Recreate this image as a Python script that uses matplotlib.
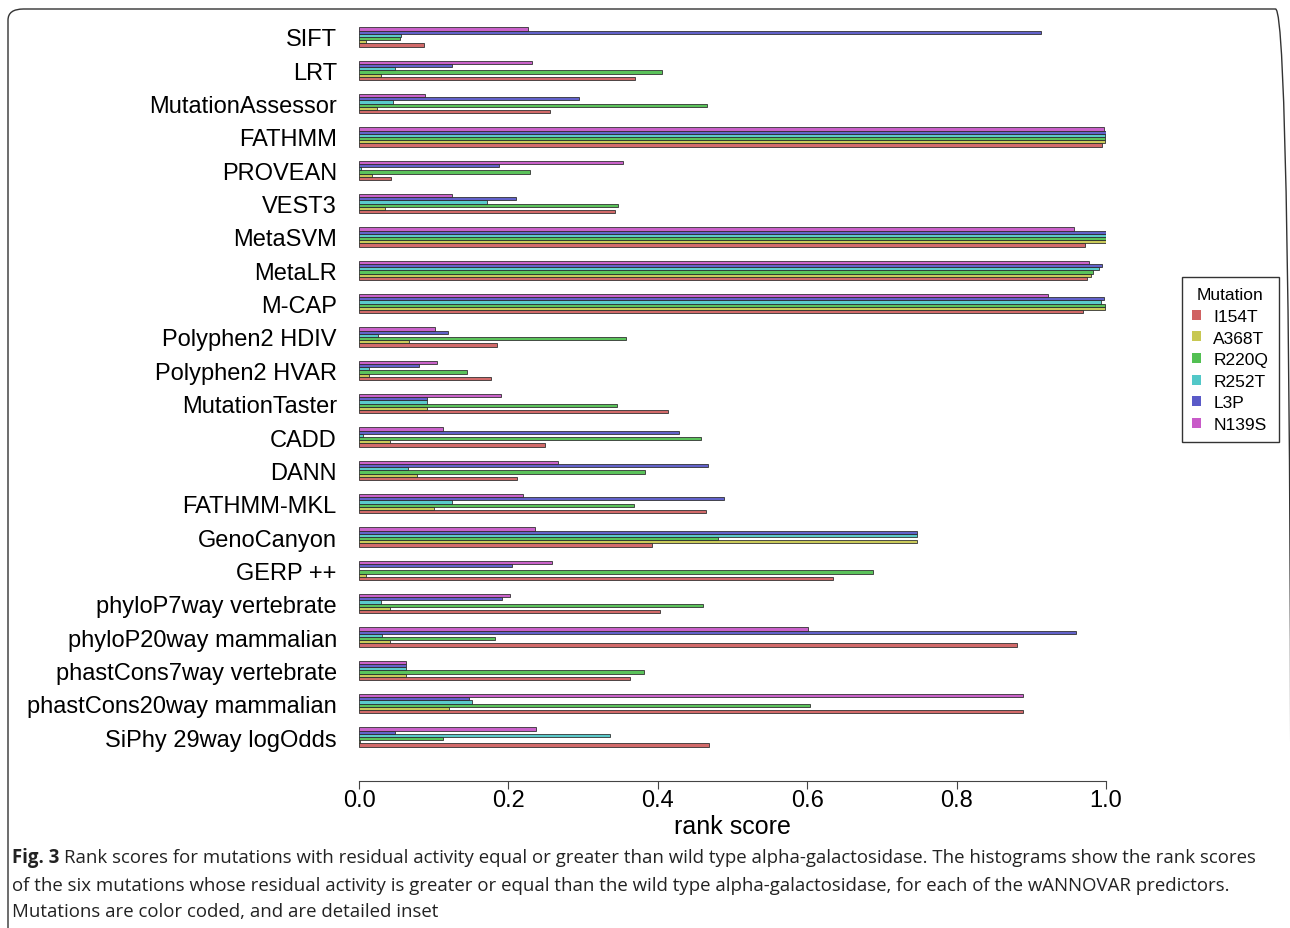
import matplotlib
matplotlib.use("Agg")
import matplotlib.pyplot as plt
import numpy as np
from matplotlib.patches import Patch, FancyBboxPatch

predictors = ["SIFT", "LRT", "MutationAssessor", "FATHMM", "PROVEAN", "VEST3",
              "MetaSVM", "MetaLR", "M-CAP", "Polyphen2 HDIV", "Polyphen2 HVAR",
              "MutationTaster", "CADD", "DANN", "FATHMM-MKL", "GenoCanyon",
              "GERP ++", "phyloP7way vertebrate", "phyloP20way mammalian",
              "phastCons7way vertebrate", "phastCons20way mammalian",
              "SiPhy 29way logOdds"]

mutations = ["I154T", "A368T", "R220Q", "R252T", "L3P", "N139S"]
colors = ["#D06262", "#C8C852", "#52C052", "#52C8C8", "#5A5AC8", "#C85AC8"]

# rank scores per mutation, in predictor order
I154T = [0.087, 0.370, 0.256, 0.995, 0.043, 0.343, 0.972, 0.975, 0.969, 0.185, 0.177,
         0.414, 0.249, 0.211, 0.464, 0.392, 0.635, 0.403, 0.881, 0.363, 0.889, 0.469]
A368T = [0.010, 0.029, 0.024, 0.998, 0.018, 0.035, 1.000, 0.980, 0.999, 0.067, 0.014,
         0.091, 0.042, 0.078, 0.101, 0.747, 0.009, 0.041, 0.042, 0.063, 0.121, 0.002]
R220Q = [0.055, 0.406, 0.466, 0.998, 0.229, 0.347, 1.000, 0.982, 0.999, 0.357, 0.145,
         0.346, 0.458, 0.383, 0.368, 0.480, 0.688, 0.461, 0.182, 0.381, 0.604, 0.113]
R252T = [0.056, 0.048, 0.046, 0.998, 0.003, 0.172, 1.000, 0.990, 0.993, 0.026, 0.014,
         0.091, 0.005, 0.065, 0.125, 0.747, 0.000, 0.029, 0.031, 0.063, 0.151, 0.336]
L3P = [0.913, 0.125, 0.294, 1.000, 0.188, 0.210, 1.000, 0.995, 0.997, 0.119, 0.080,
       0.091, 0.428, 0.467, 0.488, 0.747, 0.205, 0.192, 0.960, 0.063, 0.147, 0.048]
N139S = [0.226, 0.231, 0.088, 0.997, 0.354, 0.124, 0.957, 0.977, 0.922, 0.102, 0.104,
         0.190, 0.113, 0.266, 0.220, 0.235, 0.258, 0.202, 0.601, 0.063, 0.889, 0.237]

series = [I154T, A368T, R220Q, R252T, L3P, N139S]

W, H = 1290, 929
fig = plt.figure(figsize=(W / 100, H / 100), dpi=100)
plt.rcParams["font.family"] = ["Liberation Sans", "DejaVu Sans"]

# outer frame of the figure panel
frame = FancyBboxPatch((8 / W, -0.05), (W - 7) / W, (H - 10) / H + 0.05,
                       boxstyle="round,pad=0,rounding_size=0.012",
                       transform=fig.transFigure, fill=False, edgecolor="#333333",
                       linewidth=1.0, clip_on=False)
fig.patches.append(frame)

ax_left, ax_right = 359, 1106
ax_top, ax_bottom = 21.3, 754.7
ax = fig.add_axes([ax_left / W, 1 - ax_bottom / H, (ax_right - ax_left) / W, (ax_bottom - ax_top) / H])

n = len(predictors)
yc = np.arange(n)
h = 0.097
for j, (vals, col) in enumerate(zip(series, colors)):
    ax.barh(yc + (2.5 - j) * h, vals, height=h, color=col, edgecolor="#2a2a2a",
            linewidth=0.6, alpha=0.95, label=mutations[j])

ax.set_xlim(0, 1)
ax.set_ylim(n - 0.5, -0.5)
ax.set_yticks(yc)
ax.set_yticklabels(predictors, fontsize=17)
ax.tick_params(axis="y", length=0, pad=16)
for s in ["top", "right", "left"]:
    ax.spines[s].set_visible(False)
ax.spines["bottom"].set_position(("outward", 20))
ax.spines["bottom"].set_bounds(0, 1)
ax.spines["bottom"].set_color("#444444")
ax.set_xticks([0, 0.2, 0.4, 0.6, 0.8, 1.0])
ax.set_xticklabels(["0.0", "0.2", "0.4", "0.6", "0.8", "1.0"], fontsize=17)
ax.tick_params(axis="x", length=5.5, color="#444444", pad=0)
ax.set_xlabel("rank score", fontsize=18, labelpad=2)

handles = [Patch(facecolor=c, edgecolor="none") for c in colors]
leg = fig.legend(handles, mutations, title="Mutation", loc="upper left",
                 bbox_to_anchor=(1182 / W, 1 - 278 / H), fontsize=12.5,
                 title_fontsize=12.5, handlelength=0.5, handleheight=0.5,
                 handletextpad=0.7, labelspacing=0.38, borderpad=0.6,
                 borderaxespad=0, fancybox=False, framealpha=1)
leg.get_frame().set_edgecolor("#333333")
leg.get_frame().set_linewidth(1.0)

# caption
cap_font = ["Open Sans", "DejaVu Sans"]
cap_col = "#222222"
x0 = 12 / W
t = fig.text(x0, 1 - 858 / H, "Fig. 3", fontsize=13.4, fontweight="bold",
             family=cap_font, color=cap_col, va="center")
fig.canvas.draw()
bb = t.get_window_extent(fig.canvas.get_renderer())
fig.text((bb.x1 + 5) / W, 1 - 858 / H,
         "Rank scores for mutations with residual activity equal or greater than wild type "
         "alpha-galactosidase. The histograms show the rank scores",
         fontsize=13.4, family=cap_font, color=cap_col, va="center")
fig.text(x0, 1 - 886 / H,
         "of the six mutations whose residual activity is greater or equal than the wild type "
         "alpha-galactosidase, for each of the wANNOVAR predictors.",
         fontsize=13.4, family=cap_font, color=cap_col, va="center")
fig.text(x0, 1 - 912 / H, "Mutations are color coded, and are detailed inset",
         fontsize=13.4, family=cap_font, color=cap_col, va="center")

fig.savefig("out.png", dpi=100)
